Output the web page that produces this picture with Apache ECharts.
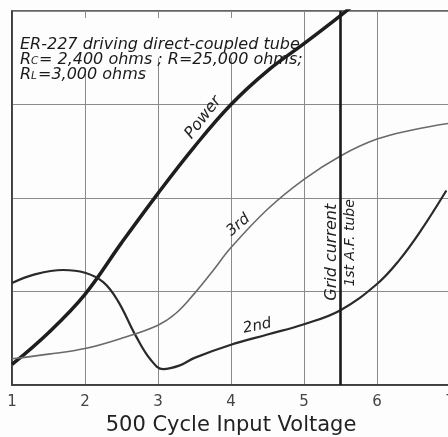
<!DOCTYPE html>
<html>
<head>
<meta charset="utf-8">
<script src="https://cdn.jsdelivr.net/npm/echarts@6/dist/echarts.min.js"></script>
<style>
html, body { margin: 0; padding: 0; background: #fff; }
#main { width: 448px; height: 437px; }
</style>
</head>
<body>
<div id="main"></div>
<script>
// values (y axis has no units, 0..4 grid squares)
var powerX = [1, 1.5, 2, 2.5, 3, 3.5, 4, 4.5, 5, 5.5, 5.7];
var powerY = [0.22, 0.56, 0.97, 1.52, 2.05, 2.55, 3.0, 3.36, 3.65, 3.95, 4.08];

var secondX = [1, 1.3, 1.7, 2.0, 2.25, 2.45, 2.7, 2.9, 3.07, 3.3, 3.5, 4, 4.5, 5, 5.5, 6, 6.3, 6.6, 6.95];
var secondY = [1.09, 1.18, 1.23, 1.20, 1.10, 0.90, 0.52, 0.27, 0.17, 0.21, 0.29, 0.43, 0.54, 0.65, 0.80, 1.08, 1.33, 1.65, 2.08];

var thirdX = [1, 1.5, 2, 2.5, 3, 3.25, 3.5, 3.75, 4, 4.5, 5, 5.5, 6, 6.5, 7];
var thirdY = [0.28, 0.33, 0.39, 0.50, 0.64, 0.77, 0.98, 1.22, 1.47, 1.88, 2.2, 2.45, 2.63, 2.73, 2.8];

var gridCurrentX = 5.5;
var xTicks = [1, 2, 3, 4, 5, 6, 7];

function pairs(xs, ys) {
    var out = [];
    for (var i = 0; i < xs.length; i++) out.push([xs[i], ys[i]]);
    return out;
}

var chart = echarts.init(document.getElementById('main'));

var option = {
    backgroundColor: '#fdfdfd',
    animation: false,
    grid: {
        left: 12, top: 11, right: -2, bottom: 52,
        containLabel: false, outerBoundsMode: 'none',
        show: true, borderColor: '#333', borderWidth: 1.5
    },
    xAxis: {
        type: 'value', min: 1, max: 7, interval: 1,
        name: '500 Cycle Input Voltage',
        nameLocation: 'middle', nameGap: 30,
        nameTextStyle: { fontFamily: 'DejaVu Sans', fontSize: 21, color: '#222' },
        axisLine: { show: true, lineStyle: { color: '#333', width: 1.5 } },
        axisTick: { show: false },
        axisLabel: {
            fontFamily: 'DejaVu Sans', fontSize: 15, color: '#444', margin: 10,
            formatter: function (v) { return xTicks.indexOf(v) >= 0 ? String(v) : ''; }
        },
        splitLine: { show: true, lineStyle: { color: '#8a8a8a', width: 1 } }
    },
    yAxis: {
        type: 'value', min: 0, max: 4, interval: 1,
        axisLine: { show: true, lineStyle: { color: '#333', width: 1.5 } },
        axisTick: { show: false },
        axisLabel: { show: false },
        splitLine: { show: true, lineStyle: { color: '#8a8a8a', width: 1 } }
    },
    series: [
        {
            name: 'Power', type: 'line', smooth: 0.4, showSymbol: false, z: 3,
            lineStyle: { color: '#1e1e1e', width: 3.5 },
            data: pairs(powerX, powerY)
        },
        {
            name: '2nd', type: 'line', smooth: 0.4, showSymbol: false, z: 3,
            lineStyle: { color: '#2a2a2a', width: 2.2 },
            data: pairs(secondX, secondY)
        },
        {
            name: '3rd', type: 'line', smooth: 0.4, showSymbol: false, z: 3,
            lineStyle: { color: '#6a6a6a', width: 1.6 },
            data: pairs(thirdX, thirdY)
        },
        {
            name: 'Grid current', type: 'line', showSymbol: false, z: 3,
            lineStyle: { color: '#1a1a1a', width: 2.6 },
            data: [[gridCurrentX, 0], [gridCurrentX, 4]]
        }
    ]
};
chart.setOption(option);

// labels that sit on the curves, placed from data coords
function at(x, y) { return chart.convertToPixel({ gridIndex: 0 }, [x, y]); }
function curveText(txt, x, y, deg, size) {
    var p = at(x, y);
    return {
        type: 'text', x: p[0], y: p[1], z: 4, rotation: deg * Math.PI / 180,
        style: {
            text: txt, fill: '#222', align: 'center', verticalAlign: 'middle',
            fontFamily: 'DejaVu Sans', fontSize: size, fontStyle: 'italic'
        }
    };
}
function titleText(txt, x, y, size) {
    return {
        type: 'text', x: x, y: y, z: 4,
        style: {
            text: txt, fill: '#1a1a1a', align: 'left', verticalAlign: 'alphabetic',
            fontFamily: 'DejaVu Sans', fontSize: size, fontStyle: 'italic'
        }
    };
}

chart.setOption({
    graphic: [
        // paper left blank behind the lettering (under the curves, over the grid)
        { type: 'rect', z: 1, shape: { x: 15, y: 18, width: 288, height: 40 }, style: { fill: '#fdfdfd' } },
        { type: 'rect', z: 1, shape: { x: 15, y: 58, width: 135, height: 16 }, style: { fill: '#fdfdfd' } },
        titleText('ER-227 driving direct-coupled tube', 20, 37, 16),
        titleText('R', 20, 52, 16),
        titleText('C', 31, 56, 10.5),
        titleText('= 2,400 ohms ; R=25,000 ohms;', 39, 52, 16),
        titleText('R', 20, 67, 16),
        titleText('L', 31, 71, 10.5),
        titleText('=3,000 ohms', 38, 67, 16),
        curveText('Power', 3.62, 2.86, 52, 16),
        curveText('3rd', 4.1, 1.71, 40, 15),
        curveText('2nd', 4.36, 0.63, 12, 15),
        curveText('Grid current', 5.38, 1.42, 90, 16),
        curveText('1st A.F. tube', 5.64, 1.52, 90, 14)
    ]
});
</script>
</body>
</html>
